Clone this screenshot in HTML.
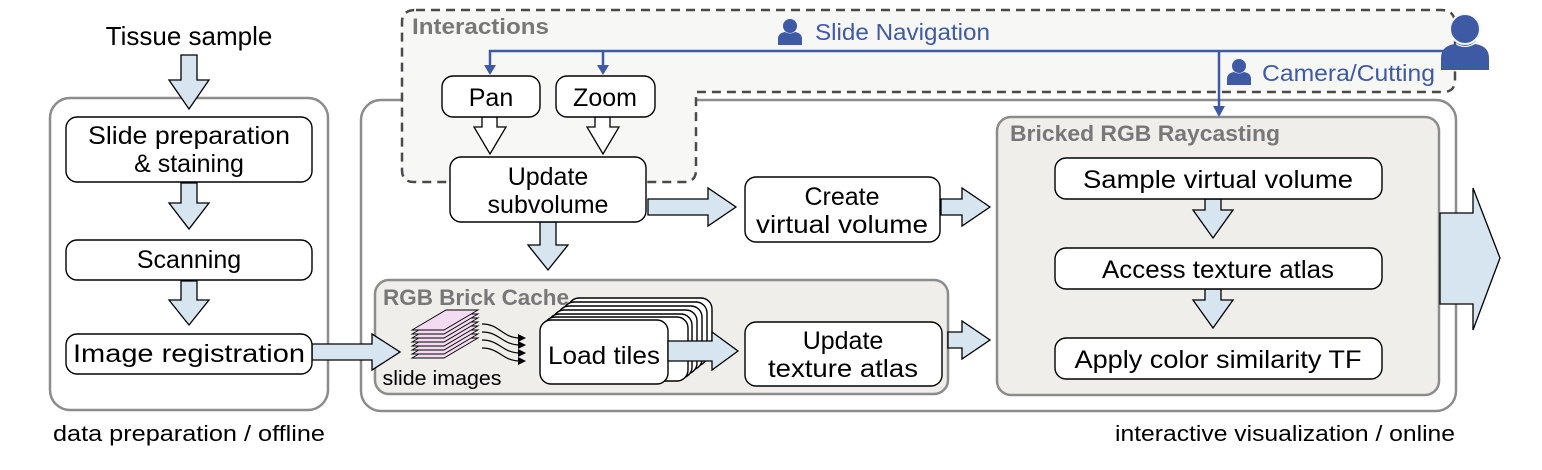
<!DOCTYPE html>
<html><head><meta charset="utf-8"><style>
body{margin:0;background:#fff}
svg{display:block}
text{font-family:"Liberation Sans",sans-serif}
</style></head><body>
<svg width="1542" height="470" viewBox="0 0 1542 470" xmlns="http://www.w3.org/2000/svg">
<defs>
<g id="person">
<circle cx="0" cy="-7" r="7"/>
<path d="M-12,12 L-12,6 Q-12,0 -5,-1 Q0,2 5,-1 Q12,0 12,6 L12,12 Z"/>
</g>
</defs>
<rect x="50" y="98" width="278" height="312" rx="20" fill="#fff" stroke="#8c8c8c" stroke-width="2.5"/>
<rect x="361" y="100" width="1095" height="311" rx="20" fill="#fff" stroke="#8c8c8c" stroke-width="2.5"/>
<path d="M416,10 L1441,10 Q1455,10 1455,24 L1455,80 Q1455,92 1443,92 L696,92 L696,170 Q696,182 684,182 L414,182 Q402,182 402,170 L402,22 Q402,10 416,10 Z" fill="#f7f7f5" stroke="#4a4a4a" stroke-width="2.5" stroke-dasharray="9,6"/>
<text x="412" y="34" font-size="22" font-weight="bold" fill="#777" textLength="137" lengthAdjust="spacingAndGlyphs">Interactions</text>
<rect x="375" y="280" width="573" height="114" rx="14" fill="#efeeea" stroke="#8c8c8c" stroke-width="2.5"/>
<text x="383" y="305" font-size="22" font-weight="bold" fill="#777" textLength="186" lengthAdjust="spacingAndGlyphs">RGB Brick Cache</text>
<rect x="997" y="117" width="442" height="278" rx="14" fill="#efeeea" stroke="#8c8c8c" stroke-width="2.5"/>
<text x="1010" y="141" font-size="22" font-weight="bold" fill="#777" textLength="270" lengthAdjust="spacingAndGlyphs">Bricked RGB Raycasting</text>

<g fill="#d6e5f0" stroke="#000" stroke-width="1.3">
<polygon points="181,55 197,55 197,80 209,80 189,109 169,80 181,80"/>
<polygon points="181,183 197,183 197,203 209,203 189,229 169,203 181,203"/>
<polygon points="181,281 197,281 197,300 209,300 189,325 169,300 181,300"/>
<polygon points="540,222 556,222 556,245 568,245 548,270 528,245 540,245"/>
<polygon points="1205,199 1221,199 1221,210 1233,210 1213,238 1193,210 1205,210"/>
<polygon points="1205,289 1221,289 1221,300 1233,300 1213,328 1193,300 1205,300"/>
<polygon points="312,344 372,344 372,334 400,352 372,370 372,360 312,360"/>
<polygon points="648,199 708,199 708,188 736,207 708,226 708,215 648,215"/>
<polygon points="941,199 962,199 962,188 990,207 962,226 962,215 941,215"/>
<polygon points="948,332 962,332 962,321 990,340 962,359 962,348 948,348"/>
<polygon points="1440,213 1473,213 1473,188 1500,258 1473,330 1473,304 1440,304"/>
</g>
<g fill="#fff" stroke="#000" stroke-width="1.3">
<polygon points="482,117 497,117 497,127 506,127 490,154 474,127 482,127"/>
<polygon points="595,117 610,117 610,127 619,127 603,154 587,127 595,127"/>
</g>

<g fill="#fff" stroke="#000" stroke-width="1.4">
<rect x="66" y="117" width="246" height="65" rx="11"/>
<rect x="66" y="240" width="246" height="40" rx="11"/>
<rect x="66" y="334" width="246" height="40" rx="11"/>
<rect x="442" y="76" width="98" height="41" rx="11"/>
<rect x="556" y="76" width="99" height="41" rx="11"/>
<rect x="450" y="157" width="196" height="65" rx="11"/>
<rect x="745" y="177" width="195" height="65" rx="11"/>
<rect x="745" y="322" width="197" height="64" rx="11"/>
<rect x="1055" y="158" width="327" height="41" rx="11"/>
<rect x="1055" y="248" width="327" height="41" rx="11"/>
<rect x="1055" y="338" width="327" height="41" rx="11"/>
<rect x="568" y="298" width="144" height="64" rx="11"/>
<rect x="563" y="302" width="144" height="64" rx="11"/>
<rect x="558" y="306" width="144" height="64" rx="11"/>
<rect x="553" y="310" width="144" height="64" rx="11"/>
<rect x="548" y="314" width="144" height="64" rx="11"/>
<rect x="544" y="317" width="144" height="64" rx="11"/>
<rect x="540" y="320" width="128" height="64" rx="11"/>
</g>
<polygon points="668,341 712,341 712,332 738,351 712,370 712,361 668,361" fill="#d6e5f0" stroke="#000" stroke-width="1.3"/>
<g fill="#f3dcf2" stroke="#000" stroke-width="0.9">
<polygon points="412,358 444,358 478,338 446,338"/>
<polygon points="412,354 444,354 478,334 446,334"/>
<polygon points="412,350 444,350 478,330 446,330"/>
<polygon points="412,346 444,346 478,326 446,326"/>
<polygon points="412,342 444,342 478,322 446,322"/>
<polygon points="412,338 444,338 478,318 446,318"/>
<polygon points="412,334 444,334 478,314 446,314"/>
<polygon points="412,330 444,330 478,310 446,310"/>
</g>
<g fill="none" stroke="#000" stroke-width="1.2">
<path d="M482,324 C500,324 502,338 520,338"/>
<path d="M482,332 C500,332 502,345 520,345"/>
<path d="M482,340 C500,340 502,353 520,353"/>
<path d="M482,348 C500,348 502,361 520,361"/>
</g>
<g fill="#000">
<polygon points="526,338 518,334 518,342"/>
<polygon points="526,345 518,341 518,349"/>
<polygon points="526,353 518,349 518,357"/>
<polygon points="526,361 518,357 518,365"/>
</g>

<g stroke="#3f5aa5" stroke-width="2.5" fill="none">
<path d="M490,70 L490,51 L1445,51"/>
<path d="M603,70 L603,51"/>
<path d="M1219,51 L1219,110"/>
</g>
<g fill="#3f5aa5">
<polygon points="484,65 496,65 490,75"/>
<polygon points="597,65 609,65 603,75"/>
<polygon points="1213,106 1225,106 1219,117"/>
<use href="#person" transform="translate(790,33)"/>
<use href="#person" transform="translate(1239,73)"/>
<use href="#person" transform="translate(1465,46) scale(2)"/>
</g>
<circle cx="1465" cy="29" r="15" fill="#3f5aa5" stroke="#f7f7f5" stroke-width="2"/>
<text x="815" y="40" font-size="23" fill="#3f5aa5" textLength="175" lengthAdjust="spacingAndGlyphs">Slide Navigation</text>
<text x="1262" y="81" font-size="23" fill="#3f5aa5" textLength="173" lengthAdjust="spacingAndGlyphs">Camera/Cutting</text>

<g font-size="25" fill="#000" text-anchor="middle">
<text x="189" y="45" font-size="26">Tissue sample</text>
<text x="189" y="144" textLength="202" lengthAdjust="spacingAndGlyphs">Slide preparation</text>
<text x="189" y="172">&amp; staining</text>
<text x="189" y="268">Scanning</text>
<text x="189" y="362" textLength="232" lengthAdjust="spacingAndGlyphs">Image registration</text>
<text x="491" y="106">Pan</text>
<text x="605" y="106">Zoom</text>
<text x="548" y="185">Update</text>
<text x="548" y="213">subvolume</text>
<text x="842" y="205">Create</text>
<text x="842" y="233" textLength="172" lengthAdjust="spacingAndGlyphs">virtual volume</text>
<text x="604" y="364" textLength="112" lengthAdjust="spacingAndGlyphs">Load tiles</text>
<text x="843" y="349">Update</text>
<text x="843" y="377" textLength="150" lengthAdjust="spacingAndGlyphs">texture atlas</text>
<text x="1218" y="188" textLength="270" lengthAdjust="spacingAndGlyphs">Sample virtual volume</text>
<text x="1218" y="278" textLength="232" lengthAdjust="spacingAndGlyphs">Access texture atlas</text>
<text x="1218" y="368" textLength="287" lengthAdjust="spacingAndGlyphs">Apply color similarity TF</text>
<text x="442" y="385" font-size="20" textLength="119" lengthAdjust="spacingAndGlyphs">slide images</text>
<text x="189" y="441" font-size="22" textLength="272" lengthAdjust="spacingAndGlyphs">data preparation / offline</text>
<text x="1455" y="441" font-size="22" text-anchor="end" textLength="340" lengthAdjust="spacingAndGlyphs">interactive visualization / online</text>
</g>
</svg>
</body></html>
